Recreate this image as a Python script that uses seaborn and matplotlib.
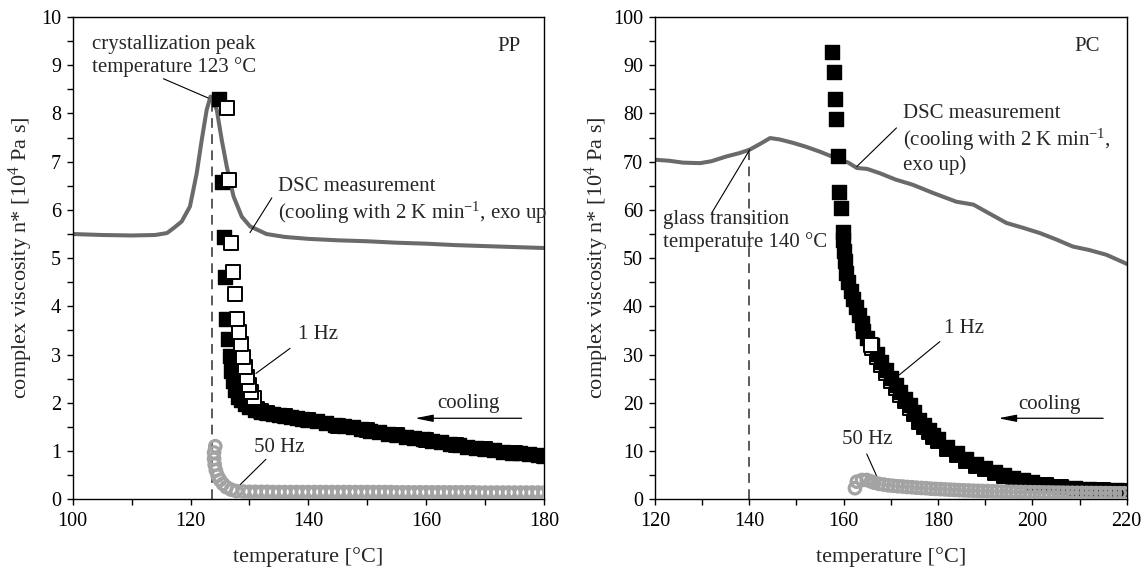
import numpy as np
import pandas as pd
import matplotlib
matplotlib.use("Agg")
import matplotlib.pyplot as plt
from matplotlib.ticker import MultipleLocator, FormatStrFormatter
import seaborn as sns

# ---------------- data ----------------
# PP: DSC trace (arbitrary units, plotted on viscosity axis)
pp_dsc_T = [100, 105, 110, 114, 116, 117.1, 118.5, 119.9, 121.05, 121.9, 122.75, 123.4,
            124.45, 125.3, 126.15, 127.3, 128.7, 130.1, 132.9, 136, 140, 145, 150, 155,
            160, 165, 170, 175, 180]
pp_dsc_v = [5.50, 5.48, 5.47, 5.48, 5.52, 5.62, 5.76, 6.07, 6.76, 7.45, 8.08, 8.35,
            8.08, 7.45, 6.90, 6.28, 5.86, 5.66, 5.50, 5.44, 5.40, 5.37, 5.35, 5.32,
            5.30, 5.27, 5.25, 5.23, 5.21]

# PP 1 Hz, filled squares (lowest temperature first)
pp_fill_T = [124.8, 125.3, 125.65, 125.85, 126.1, 126.4, 126.7, 126.95, 127.2, 127.6,
             128.0, 128.5, 129.2, 130, 131, 132, 133, 134, 135, 136, 137, 138, 139, 140,
             141.5, 143, 144.5, 146, 147.5, 149, 150.5, 152, 153.5, 155, 156.5, 158,
             159.5, 161, 162.5, 164, 165.5, 167, 168.5, 170, 171.5, 173, 174.5, 176,
             177.5, 179, 180]
pp_fill_v = [8.30, 6.57, 5.43, 4.61, 3.74, 3.33, 2.98, 2.67, 2.45, 2.26,
             2.13, 2.05, 1.97, 1.91, 1.86, 1.82, 1.79, 1.77, 1.75, 1.73, 1.71, 1.69, 1.67, 1.65,
             1.62, 1.58, 1.55, 1.52, 1.49, 1.45, 1.42, 1.39, 1.36, 1.33, 1.30, 1.27,
             1.24, 1.21, 1.18, 1.15, 1.12, 1.09, 1.07, 1.04, 1.02, 0.99, 0.97, 0.95,
             0.93, 0.91, 0.90]

# PP 1 Hz, open squares
pp_open_T = [126.2, 126.5, 126.95, 127.2, 127.5, 127.9, 128.2, 128.5, 128.9, 129.3,
             129.6, 129.9, 130.2, 130.7, 131.3, 132, 133, 136, 140, 145, 150, 155,
             160, 165, 170, 175, 180]
pp_open_v = [8.11, 6.63, 5.31, 4.71, 4.26, 3.73, 3.46, 3.22, 2.95, 2.74,
             2.53, 2.36, 2.22, 2.10, 1.87, 1.83, 1.79, 1.73, 1.65, 1.53, 1.43, 1.33,
             1.23, 1.13, 1.04, 0.96, 0.90]

# PP 50 Hz, open circles
pp_50_T = [124.2, 124.0, 124.0, 124.1, 124.3, 124.6, 125.0, 125.5, 126.1, 126.9,
           127.8, 129.0, 130, 131, 132, 133, 134, 135, 136, 137, 138, 139, 140,
           141, 142, 143, 144, 145, 146, 147, 148, 149, 150, 151, 152, 153, 154,
           155, 156, 157, 158, 159, 160, 161, 162, 163, 164, 165, 166, 167, 168,
           169, 170, 171, 172, 173, 174, 175, 176, 177, 178, 179, 180]
pp_50_v = [1.10, 0.97, 0.84, 0.72, 0.60, 0.49, 0.40, 0.32, 0.25, 0.20,
           0.17, 0.16, 0.155, 0.155, 0.155, 0.155, 0.15, 0.15, 0.15, 0.15, 0.15, 0.15, 0.15,
           0.15, 0.15, 0.15, 0.15, 0.15, 0.15, 0.15, 0.15, 0.15, 0.15, 0.15, 0.15, 0.15, 0.15,
           0.145, 0.145, 0.145, 0.145, 0.145, 0.145, 0.145, 0.145, 0.145, 0.145, 0.145, 0.145,
           0.145, 0.145, 0.14, 0.14, 0.14, 0.14, 0.14, 0.14, 0.14, 0.14, 0.14, 0.14, 0.14, 0.14]

# PC: DSC trace
pc_dsc_T = [120, 123, 126, 129.6, 132, 135.2, 138, 140.1, 142.5, 144.4, 146.5, 149.3,
            152, 154.9, 158.5, 161, 162.8, 165, 167.7, 171, 174.7, 179, 183.9, 187.5,
            191, 194.5, 198, 201.6, 205, 208.6, 212, 215.7, 219.6, 220]
pc_dsc_v = [70.4, 70.2, 69.8, 69.7, 70.1, 71.1, 71.8, 72.5, 73.8, 74.9, 74.6, 73.9,
            73.1, 72.1, 70.7, 69.8, 68.7, 68.5, 67.6, 66.3, 65.2, 63.5, 61.7, 61.1,
            59.2, 57.3, 56.3, 55.2, 53.9, 52.4, 51.7, 50.7, 49.0, 48.8]

# PC 1 Hz, filled squares
pc_fill_T = [157.5, 158.0, 158.2, 158.4, 158.9, 159.1, 159.4, 159.8, 159.9, 160.1,
             160.3, 160.6, 161.0, 161.5, 162.0, 162.6, 163.2, 163.8, 164.1, 165, 166,
             167, 168, 169, 170, 171, 172, 173, 174, 175, 176, 177, 178, 179, 180,
             182, 184, 186, 188, 190, 192, 194, 196, 198, 200, 203, 206, 209, 212,
             215, 218, 220]
pc_fill_v = [92.7, 88.5, 83.0, 78.9, 71.1, 63.8, 60.4, 55.5, 53.8, 51.5,
             49.5, 47.0, 45.0, 43.2, 41.5, 39.8, 38.2, 36.5, 34.8, 33.4, 31.9,
             30.2, 28.5, 26.8, 25.2, 23.7, 22.2, 20.8, 19.5, 18.1, 16.5, 15.4, 14.3, 13.3, 12.4,
             10.8, 9.5, 8.3, 7.3, 6.4, 5.7, 5.0, 4.4, 3.9, 3.5, 3.0, 2.6, 2.3, 2.1,
             1.95, 1.85, 1.8]

# PC 1 Hz, open squares
pc_open_T = [165.7, 166, 167, 168, 169, 170, 171, 172, 173, 174, 175, 176, 177, 178,
             179, 180, 182, 184, 186, 188, 190, 192, 194, 196, 198, 200, 203, 206,
             209, 212, 215, 218, 220]
pc_open_v = [32.0, 31.3, 29.6, 27.9, 26.2, 24.6, 23.1, 21.7, 20.3, 19.0, 17.6, 16.0,
             14.9, 13.9, 12.9, 12.0, 10.4, 9.2, 8.0, 7.0, 6.2, 5.5, 4.8, 4.25, 3.8,
             3.4, 2.9, 2.5, 2.2, 2.0, 1.9, 1.8, 1.75]

# PC 50 Hz, open circles
pc_50_T = [162.4, 162.8, 163.9, 164.9, 165.8, 166.5, 167.5, 168.5, 169.5, 170.5,
           171.5, 172.5, 173.5, 174.5, 175.5, 176.5, 177.5, 178.5, 179.5, 180.5,
           181.5, 182.5, 183.5, 184.5, 185.5, 186.5, 187.5, 188.5, 189.5, 190.5,
           191.5, 192.5, 193.5, 194.5, 195.5, 196.5, 197.5, 198.5, 199.5, 200.5,
           201.5, 202.5, 203.5, 204.5, 205.5, 206.5, 207.5, 208.5, 209.5, 210.5,
           211.5, 212.5, 213.5, 214.5, 215.5, 216.5, 217.5, 218.5, 219.5]
pc_50_v = [2.3, 3.65, 4.0, 4.0, 3.7, 3.45, 3.2, 3.05, 2.9, 2.8,
           2.7, 2.65, 2.55, 2.5, 2.4, 2.35, 2.3, 2.2, 2.15, 2.1,
           2.05, 2.0, 1.95, 1.9, 1.85, 1.82, 1.78, 1.75, 1.72, 1.7,
           1.67, 1.64, 1.61, 1.58, 1.56, 1.54, 1.52, 1.5, 1.48, 1.46,
           1.45, 1.43, 1.42, 1.4, 1.39, 1.37, 1.36, 1.35, 1.34, 1.33,
           1.32, 1.31, 1.3, 1.29, 1.28, 1.27, 1.26, 1.26, 1.25]

pp_peak_T, pp_peak_v = 123.6, 8.3
pc_tg_T, pc_tg_v = 140, 72.3

# ---------------- style ----------------
sns.set_theme(style="ticks")
plt.rcParams["font.family"] = ["Liberation Serif", "DejaVu Serif"]
plt.rcParams["mathtext.fontset"] = "custom"
plt.rcParams["mathtext.rm"] = "Liberation Serif"
plt.rcParams["mathtext.it"] = "Liberation Serif:italic"
plt.rcParams["mathtext.default"] = "rm"

DSC_GREY = "#6a6a6a"
CIRC_GREY = "#a3a3a3"
DASH_GREY = "#5a5a5a"
FS = 15        # annotations
FS_TICK = 14.5
FS_LAB = 16
SQ = 88        # marker area (pt^2)
N_TOP = {"pp": 14, "pc": 1}   # open squares drawn above the filled ones

fig = plt.figure(figsize=(11.45, 5.75), dpi=100)
ax1 = fig.add_axes([72.7 / 1145, 75.7 / 575, 471.3 / 1145, 482.3 / 575])
ax2 = fig.add_axes([654.9 / 1145, 75.7 / 575, 471.8 / 1145, 482.3 / 575])


def cooling(T, v):
    # measured while cooling: highest temperature first
    return pd.DataFrame({"T": T, "v": v}).iloc[::-1]


def draw(ax, key, dsc_T, dsc_v, fill_T, fill_v, open_T, open_v, c_T, c_v):
    sns.lineplot(x=dsc_T, y=dsc_v, ax=ax, color=DSC_GREY, lw=2.9, sort=False,
                 zorder=2)
    n = N_TOP[key]
    sns.scatterplot(data=cooling(open_T[n:], open_v[n:]), x="T", y="v", ax=ax,
                    marker="s", s=SQ, color="white", edgecolor="black",
                    linewidth=1.4, zorder=3)
    sns.scatterplot(data=cooling(fill_T, fill_v), x="T", y="v", ax=ax, marker="s",
                    s=SQ, color="black", edgecolor="black", linewidth=1.0, zorder=4)
    sns.scatterplot(data=cooling(open_T[:n], open_v[:n]), x="T", y="v", ax=ax,
                    marker="s", s=SQ, color="white", edgecolor="black",
                    linewidth=1.4, zorder=5)
    sns.scatterplot(data=cooling(c_T, c_v), x="T", y="v", ax=ax, marker="o", s=68,
                    facecolor="none", edgecolor=CIRC_GREY, linewidth=2.3, zorder=6)


draw(ax1, "pp", pp_dsc_T, pp_dsc_v, pp_fill_T, pp_fill_v, pp_open_T, pp_open_v,
     pp_50_T, pp_50_v)
draw(ax2, "pc", pc_dsc_T, pc_dsc_v, pc_fill_T, pc_fill_v, pc_open_T, pc_open_v,
     pc_50_T, pc_50_v)

ax1.vlines(pp_peak_T, 0, pp_peak_v, colors=DASH_GREY, lw=1.4,
           linestyles=(0, (5, 3.3)), zorder=1)
ax2.vlines(pc_tg_T, 0, pc_tg_v, colors=DASH_GREY, lw=1.4,
           linestyles=(0, (5, 3.3)), zorder=1)

# ---------------- axes ----------------
for ax, (x0, x1), (y0, y1), ymin, ylp in [(ax1, (100, 180), (0, 10), 0.5, 4),
                                           (ax2, (120, 220), (0, 100), 5, 1.5)]:
    ax.set_xlim(x0, x1)
    ax.set_ylim(y0, y1)
    ax.set_xticks(np.arange(x0, x1 + 1, 20))
    ax.xaxis.set_minor_locator(MultipleLocator(10))
    ax.set_yticks(np.arange(y0, y1 + 0.01, (y1 - y0) / 10))
    ax.yaxis.set_minor_locator(MultipleLocator(ymin))
    ax.yaxis.set_major_formatter(FormatStrFormatter("%d"))
    ax.tick_params(which="both", direction="out", length=4.5, width=1.0,
                   colors="black", labelsize=FS_TICK, top=False, right=False)
    ax.tick_params(axis="x", pad=5)
    ax.tick_params(axis="y", pad=4)
    for sp in ax.spines.values():
        sp.set_visible(True)
        sp.set_linewidth(1.0)
        sp.set_color("black")
    ax.set_xlabel("temperature [°C]", fontsize=FS_LAB, labelpad=11)
    ax.set_ylabel("complex viscosity n* [10$^{4}$ Pa s]", fontsize=FS_LAB,
                  labelpad=ylp)
    ax.grid(False)

# ---------------- annotations: PP ----------------
line_kw = dict(arrowstyle="-", color="black", lw=0.8, shrinkA=0, shrinkB=0)
arrow_kw = dict(arrowstyle="-|>,head_length=0.9,head_width=0.18", color="black",
                lw=0.9, shrinkA=0, shrinkB=0)

ax1.text(176.0, 9.39, "PP", fontsize=FS, ha="right", va="center")
ax1.text(103.2, 9.20, "crystallization peak\ntemperature 123 °C", fontsize=FS,
         ha="left", va="center")
ax1.annotate("", xy=(123.0, 8.32), xytext=(115.4, 8.72), arrowprops=line_kw)
ax1.text(134.8, 6.18, "DSC measurement\n(cooling with 2 K min$^{-1}$, exo up",
         fontsize=FS, ha="left", va="center", clip_on=False)
ax1.annotate("", xy=(130.1, 5.53), xytext=(133.8, 6.25), arrowprops=line_kw)
ax1.text(138.3, 3.41, "1 Hz", fontsize=FS, ha="left", va="center")
ax1.annotate("", xy=(131.1, 2.61), xytext=(136.9, 3.13), arrowprops=line_kw)
ax1.text(130.8, 1.08, "50 Hz", fontsize=FS, ha="left", va="center")
ax1.annotate("", xy=(128.4, 0.30), xytext=(132.8, 0.83), arrowprops=line_kw)
ax1.text(167.1, 1.99, "cooling", fontsize=FS, ha="center", va="center")
ax1.annotate("", xy=(158.1, 1.68), xytext=(176.2, 1.68), arrowprops=arrow_kw)

# ---------------- annotations: PC ----------------
ax2.text(214.3, 93.9, "PC", fontsize=FS, ha="right", va="center")
ax2.text(172.5, 74.6, "DSC measurement\n(cooling with 2 K min$^{-1}$,\nexo up)",
         fontsize=FS, ha="left", va="center")
ax2.annotate("", xy=(162.8, 69.0), xytext=(171.2, 77.0), arrowprops=line_kw)
ax2.text(121.7, 55.6, "glass transition\ntemperature 140 °C", fontsize=FS,
         ha="left", va="center")
ax2.annotate("", xy=(140.1, 72.5), xytext=(132.0, 59.3), arrowprops=line_kw)
ax2.text(181.3, 35.5, "1 Hz", fontsize=FS, ha="left", va="center")
ax2.annotate("", xy=(171.8, 25.8), xytext=(180.4, 32.7), arrowprops=line_kw)
ax2.text(159.7, 12.3, "50 Hz", fontsize=FS, ha="left", va="center")
ax2.annotate("", xy=(167.7, 3.3), xytext=(164.9, 9.4), arrowprops=line_kw)
ax2.text(203.7, 19.6, "cooling", fontsize=FS, ha="center", va="center")
ax2.annotate("", xy=(192.8, 16.8), xytext=(215.0, 16.8), arrowprops=arrow_kw)

fig.savefig("out.png", dpi=100, facecolor="white")
